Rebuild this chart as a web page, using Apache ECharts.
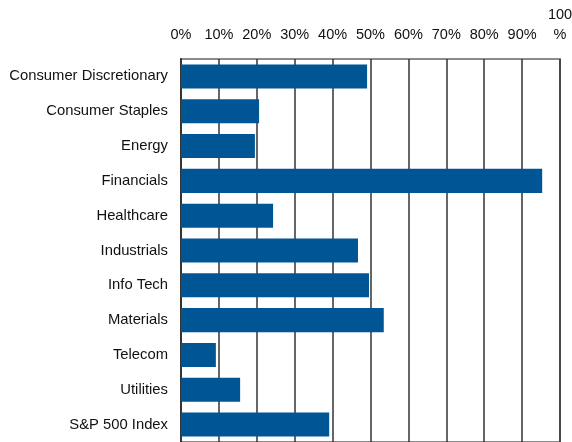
<!DOCTYPE html>
<html>
<head>
<meta charset="utf-8">
<script src="https://cdn.jsdelivr.net/npm/echarts@6/dist/echarts.min.js"></script>
<style>
  html, body { margin: 0; padding: 0; background: #fff; }
  #chart { width: 572px; height: 442px; }
</style>
</head>
<body>
<div id="chart"></div>
<script>
// Sector shares (percent)
const sectors = [
  'Consumer Discretionary', 'Consumer Staples', 'Energy', 'Financials',
  'Healthcare', 'Industrials', 'Info Tech', 'Materials', 'Telecom',
  'Utilities', 'S&P 500 Index'
];
const shares = [49.1, 20.6, 19.5, 95.3, 24.3, 46.7, 49.6, 53.5, 9.2, 15.6, 39.1];

const chart = echarts.init(document.getElementById('chart'), null, { renderer: 'canvas' });

chart.setOption({
  animation: false,
  backgroundColor: '#ffffff',
  textStyle: { fontFamily: 'Liberation Sans, Arial, sans-serif' },
  grid: {
    left: 181, right: 12, top: 59, bottom: 0,
    outerBoundsMode: 'none',
    containLabel: false,
    show: true, borderColor: '#8a8a8a', borderWidth: 2, backgroundColor: 'transparent'
  },
  xAxis: {
    type: 'value',
    position: 'top',
    min: 0, max: 100, interval: 10,
    axisLine: { show: false },
    axisTick: { show: false },
    splitLine: { show: true, lineStyle: { color: '#333333', width: 1.5 } },
    axisLabel: {
      color: '#111111', fontSize: 14.5, margin: 14, lineHeight: 20,
      formatter: v => v === 100 ? '100\n%' : v + '%'
    }
  },
  yAxis: {
    type: 'category',
    inverse: true,
    data: sectors,
    axisLine: { show: true, lineStyle: { color: '#333333', width: 2 } },
    axisTick: { show: false },
    splitLine: { show: false },
    axisLabel: { color: '#111111', fontSize: 14.8, margin: 13 }
  },
  series: [{
    type: 'bar',
    data: shares,
    barWidth: '69%',
    itemStyle: { color: '#005694' },
    z: 3
  }]
});
</script>
</body>
</html>
